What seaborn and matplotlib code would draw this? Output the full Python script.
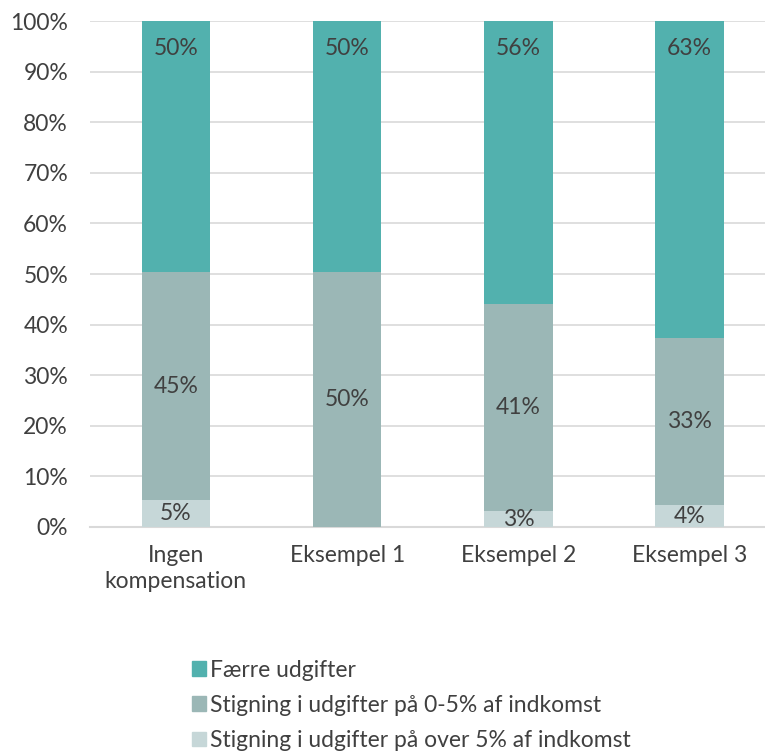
import matplotlib
matplotlib.use("Agg")
import matplotlib.pyplot as plt
import seaborn as sns
import pandas as pd
import numpy as np

categories = ["Ingen\nkompensation", "Eksempel 1", "Eksempel 2", "Eksempel 3"]
over_5 = [5.4, 0.0, 3.1, 4.3]
between_0_5 = [44.9, 50.3, 41.0, 33.0]
faerre = [49.7, 49.7, 55.9, 62.7]
over_labels = ["5%", "", "3%", "4%"]
between_labels = ["45%", "50%", "41%", "33%"]
faerre_labels = ["50%", "50%", "56%", "63%"]

series_names = [
    "Færre udgifter",
    "Stigning i udgifter på 0-5% af indkomst",
    "Stigning i udgifter på over 5% af indkomst",
]
colors = ["#52B1AE", "#9BB7B6", "#C6D7D8"]
text_color = "#404040"

sns.set_theme(style="white")
plt.rcParams["font.family"] = ["Lato", "DejaVu Sans"]

df = pd.DataFrame({
    "kategori": categories,
    "over": over_5,
    "mellem": between_0_5,
    "faerre": faerre,
})

fig = plt.figure(figsize=(7.65, 7.51), dpi=100)
ax = fig.add_axes([0.118, 0.2983, 0.882, 0.6737])

bar_kw = dict(width=0.4, saturation=1, linewidth=0, ax=ax, zorder=3)
sns.barplot(data=df, x="kategori", y="over", color=colors[2], **bar_kw)
sns.barplot(data=df, x="kategori", y="mellem", color=colors[1],
            bottom=df["over"], **bar_kw)
sns.barplot(data=df, x="kategori", y="faerre", color=colors[0],
            bottom=df["over"] + df["mellem"], **bar_kw)

fs = 16.5
xs = np.arange(len(categories))
for i in xs:
    if over_labels[i]:
        ax.text(i, over_5[i] / 2, over_labels[i], ha="center", va="center",
                fontsize=fs, color=text_color, zorder=4)
    ax.text(i, over_5[i] + between_0_5[i] / 2, between_labels[i], ha="center",
            va="center", fontsize=fs, color=text_color, zorder=4)
    ax.text(i, 94.6, faerre_labels[i], ha="center", va="center",
            fontsize=fs, color=text_color, zorder=4)

ax.set_ylim(0, 100)
ax.set_xlim(-0.5, 3.44)
ax.set_yticks(np.arange(0, 101, 10))
ax.set_yticklabels([f"{v}%" for v in range(0, 101, 10)])
ax.yaxis.grid(True, color="#D9D9D9", linewidth=1.2, zorder=0)
ax.set_xlabel("")
ax.set_ylabel("")
ax.tick_params(axis="y", length=0, labelsize=fs, colors=text_color, pad=16)
ax.tick_params(axis="x", length=0, labelsize=fs, colors=text_color, pad=13)
for t in ax.get_xticklabels():
    t.set_linespacing(1.3)
for side in ["top", "right", "left"]:
    ax.spines[side].set_visible(False)
ax.spines["bottom"].set_color("#D9D9D9")
ax.spines["bottom"].set_linewidth(1.5)

handles = [plt.Rectangle((0, 0), 1, 1, color=c) for c in colors]
leg = fig.legend(handles, series_names, loc="upper left",
                 bbox_to_anchor=(0.236, 0.137), frameon=False,
                 fontsize=fs, handlelength=0.6, handleheight=0.6,
                 handletextpad=0.2, labelspacing=0.62, borderpad=0)
for t in leg.get_texts():
    t.set_color(text_color)

fig.savefig("out.png", dpi=100)
